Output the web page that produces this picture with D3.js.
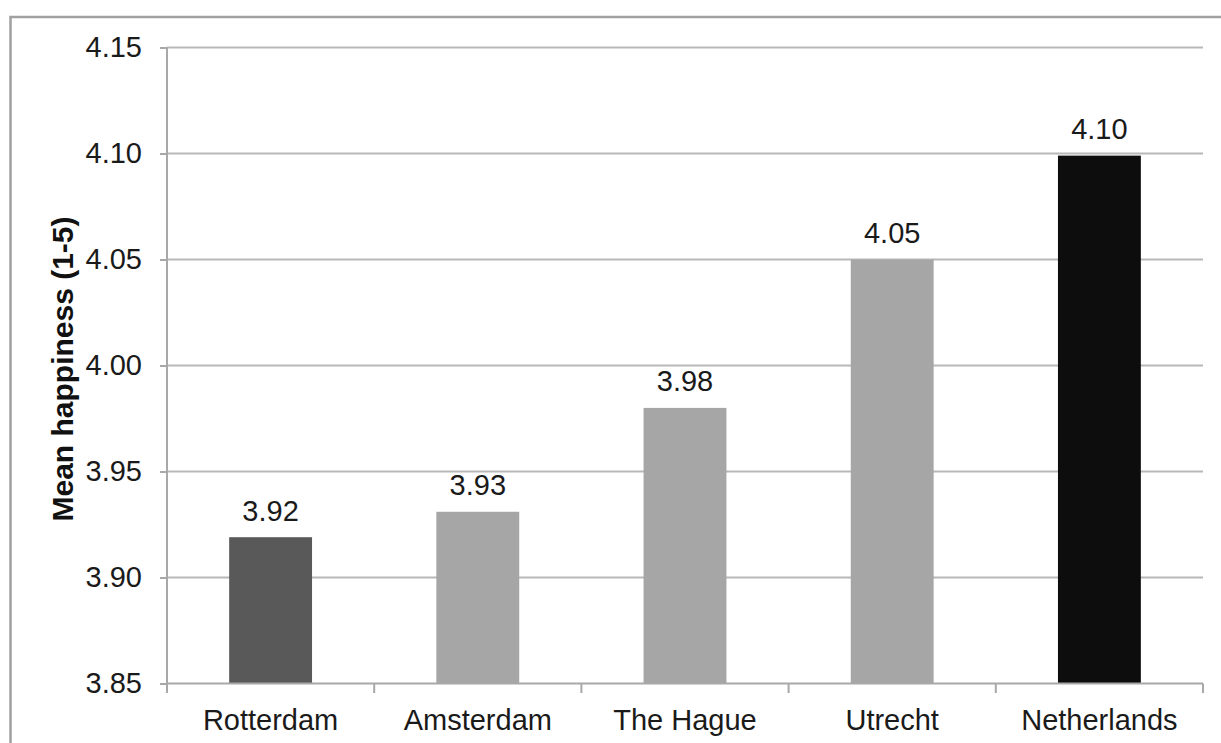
<!DOCTYPE html>
<html>
<head>
<meta charset="utf-8">
<script src="https://cdn.jsdelivr.net/npm/d3@7"></script>
<style>
  html, body { margin: 0; padding: 0; background: #fff; }
  svg { display: block; }
  text { font-family: "Liberation Sans", Arial, sans-serif; }
</style>
</head>
<body>
<svg id="chart" width="1221" height="743"></svg>
<script>
const categories = ["Rotterdam", "Amsterdam", "The Hague", "Utrecht", "Netherlands"];
const values = [3.919, 3.931, 3.98, 4.05, 4.099];
const barColors = ["#595959", "#a6a6a6", "#a6a6a6", "#a6a6a6", "#0d0d0d"];
const yTicks = [3.85, 3.90, 3.95, 4.00, 4.05, 4.10, 4.15];
const yTitle = "Mean happiness (1-5)";

const svg = d3.select("#chart");
const pLeft = 167, pRight = 1203, pTop = 47.5, pBottom = 683.5;

// outer frame
svg.append("rect")
  .attr("x", 10.5).attr("y", 17).attr("width", 1240).attr("height", 760)
  .attr("fill", "none").attr("stroke", "#a0a0a0").attr("stroke-width", 2.5);

const x = d3.scaleBand().domain(categories).range([pLeft, pRight])
  .paddingInner(0.6).paddingOuter(0.3);
const y = d3.scaleLinear().domain([3.85, 4.15]).range([pBottom, pTop]);

// gridlines
svg.append("g").selectAll("line").data(yTicks.slice(1)).join("line")
  .attr("x1", pLeft).attr("x2", pRight)
  .attr("y1", d => y(d)).attr("y2", d => y(d))
  .attr("stroke", "#b8b8b8").attr("stroke-width", 2);

// y axis
const yAxis = svg.append("g").attr("transform", `translate(${pLeft},0)`)
  .call(d3.axisLeft(y).tickValues(yTicks).tickFormat(d3.format(".2f")).tickSize(7).tickPadding(18));
yAxis.select(".domain").remove();
yAxis.selectAll(".tick line").attr("stroke", "#a8a8a8").attr("stroke-width", 2);
yAxis.selectAll(".tick text").attr("font-size", 29).attr("fill", "#1a1a1a")
  .attr("font-family", "'Liberation Sans', Arial, sans-serif");
svg.append("line").attr("x1", pLeft).attr("x2", pLeft).attr("y1", pTop).attr("y2", pBottom + 9.5)
  .attr("stroke", "#a8a8a8").attr("stroke-width", 2);

// bars
svg.append("g").selectAll("rect").data(categories).join("rect")
  .attr("x", d => x(d)).attr("width", x.bandwidth())
  .attr("y", (d, i) => y(values[i])).attr("height", (d, i) => pBottom - y(values[i]))
  .attr("fill", (d, i) => barColors[i]);

// x axis
svg.append("line").attr("x1", pLeft).attr("x2", pRight).attr("y1", pBottom).attr("y2", pBottom)
  .attr("stroke", "#a8a8a8").attr("stroke-width", 2);
const boundaries = d3.range(categories.length + 1).map(i => pLeft + i * x.step());
svg.append("g").selectAll("line").data(boundaries.slice(1)).join("line")
  .attr("x1", d => d).attr("x2", d => d).attr("y1", pBottom).attr("y2", pBottom + 9.5)
  .attr("stroke", "#a8a8a8").attr("stroke-width", 2);
svg.append("g").selectAll("text").data(categories).join("text")
  .attr("x", d => x(d) + x.bandwidth() / 2).attr("y", pBottom + 46.5)
  .attr("text-anchor", "middle").attr("font-size", 29).attr("fill", "#1a1a1a")
  .text(d => d);

// data labels
svg.append("g").selectAll("text").data(categories).join("text")
  .attr("x", d => x(d) + x.bandwidth() / 2).attr("y", (d, i) => y(values[i]) - 16.5)
  .attr("text-anchor", "middle").attr("font-size", 29).attr("fill", "#1a1a1a")
  .text((d, i) => d3.format(".2f")(values[i]));

// y title
svg.append("text")
  .attr("transform", `translate(73,369) rotate(-90)`)
  .attr("text-anchor", "middle").attr("font-size", 30).attr("font-weight", "bold").attr("fill", "#111")
  .text(yTitle);
</script>
</body>
</html>
